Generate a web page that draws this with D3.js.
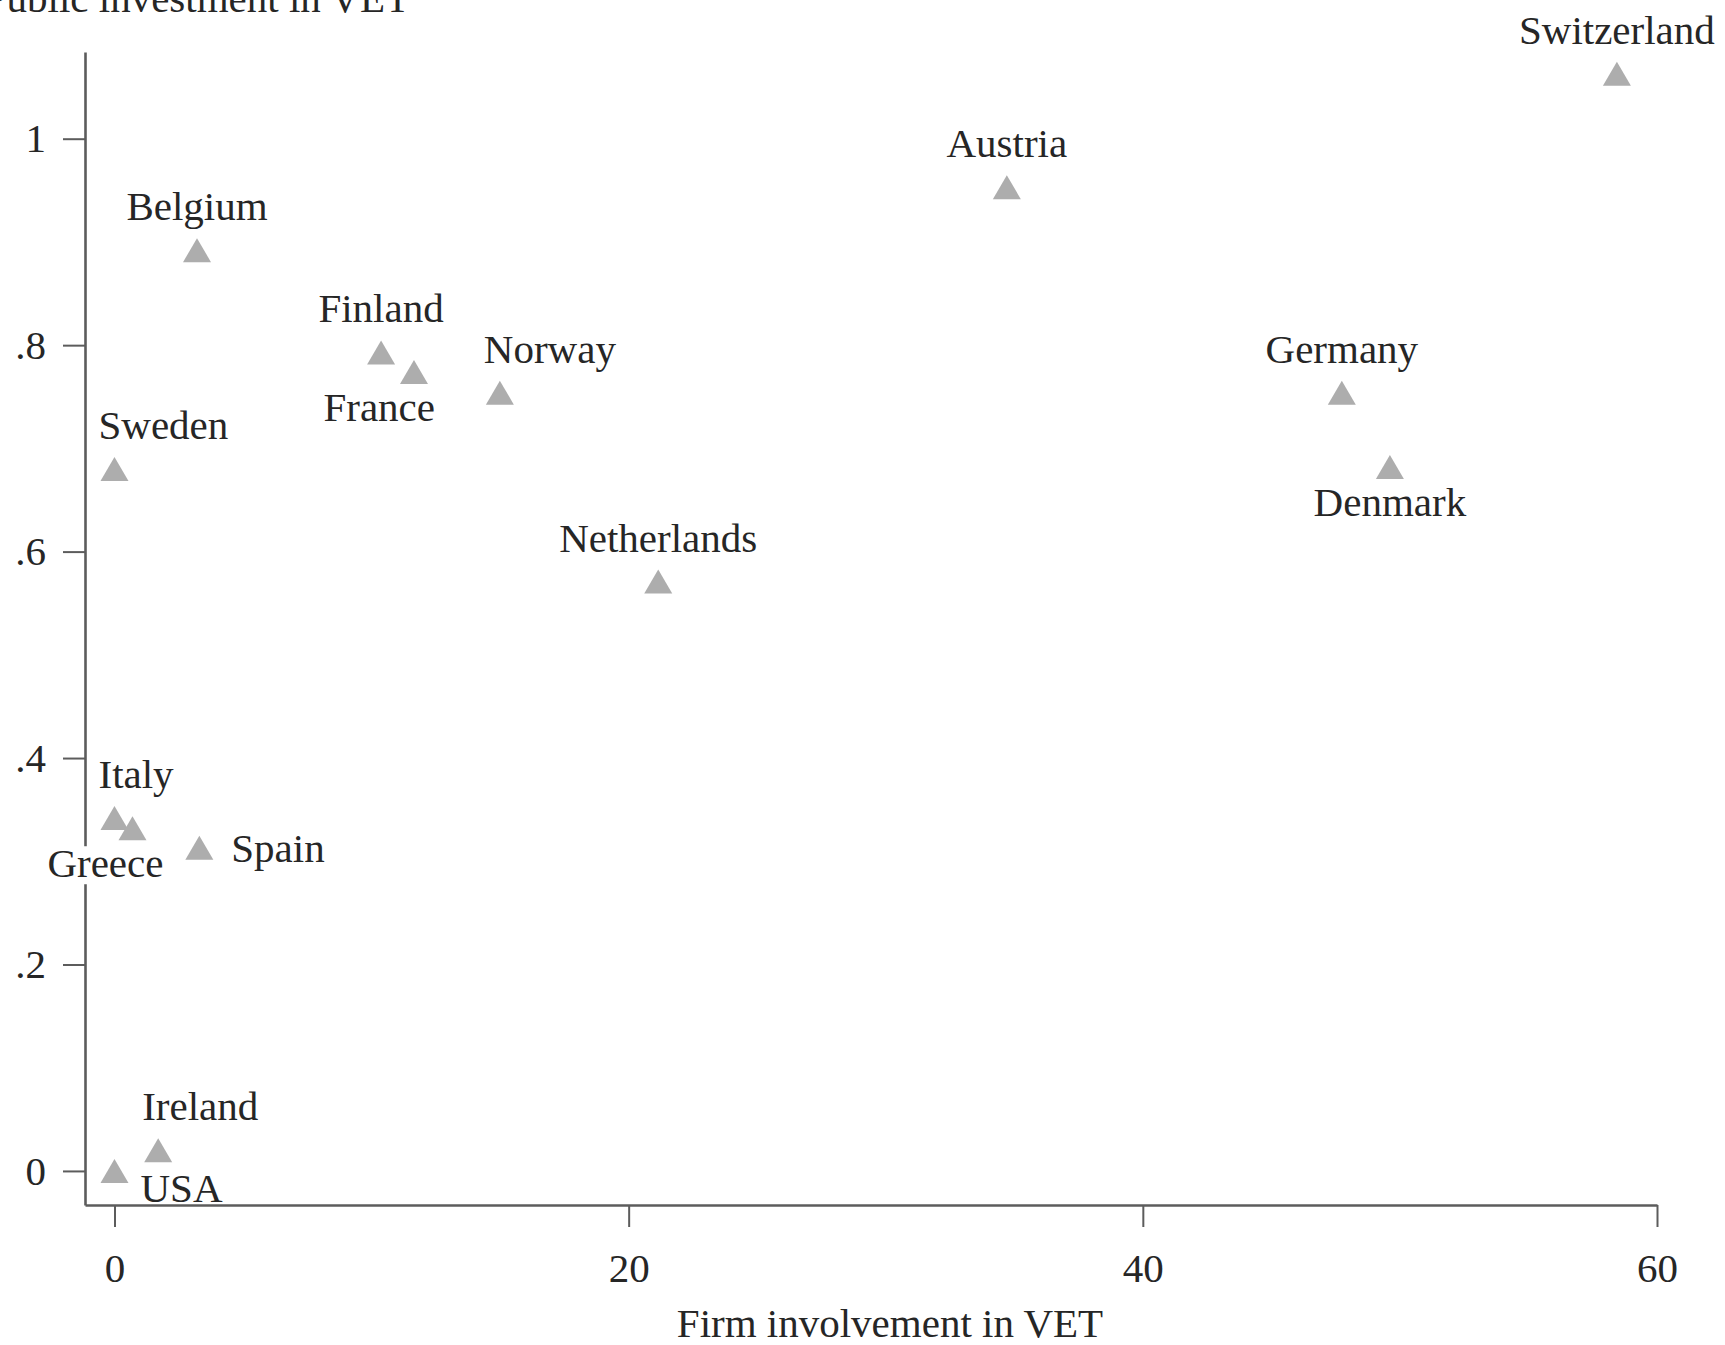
<!DOCTYPE html>
<html>
<head>
<meta charset="utf-8">
<script src="https://cdn.jsdelivr.net/npm/d3@7/dist/d3.min.js"></script>
<style>
  html, body { margin: 0; padding: 0; background: #fff; }
  svg { display: block; }
  text { font-family: "Liberation Serif", "Times New Roman", serif; }
</style>
</head>
<body>
<svg id="chart" width="1725" height="1345"></svg>
<script>
// Countries: firm involvement in VET (x) vs public investment in VET (y)
const countries = ["Switzerland", "Austria", "Belgium", "Finland", "France", "Norway",
  "Germany", "Denmark", "Sweden", "Netherlands", "Italy", "Greece", "Spain", "Ireland", "USA"];
const firmInvolvement = [58.44, 34.71, 3.21, 10.37, 11.65, 14.99,
  47.74, 49.61, 0, 21.15, 0, 0.7, 3.3, 1.7, 0];
const publicInvestment = [1.063, 0.953, 0.892, 0.793, 0.774, 0.754,
  0.754, 0.682, 0.680, 0.571, 0.342, 0.332, 0.313, 0.020, 0];

const xTicks = [0, 20, 40, 60];
const xTickLabels = ["0", "20", "40", "60"];
const yTicks = [0, 0.2, 0.4, 0.6, 0.8, 1];
const yTickLabels = ["0", ".2", ".4", ".6", ".8", "1"];

const xTitle = "Firm involvement in VET";
const yTitle = "Public investment in VET";

// Marker label placement by clock position (Stata-style mlabvposition)
const labelClock = {
  Switzerland: 12, Austria: 12, Belgium: 12, Finland: 12, Germany: 12, Netherlands: 12,
  Norway: 1, Sweden: 1, Italy: 1, Ireland: 1,
  Denmark: 6, France: 7, Greece: 8, Spain: 3, USA: 4
};
const clockOffsets = {
  12: { anchor: "middle", dx: 0,   dy: -30 },
  1:  { anchor: "start",  dx: -16, dy: -30 },
  3:  { anchor: "start",  dx: 32,  dy: 14 },
  4:  { anchor: "start",  dx: 26,  dy: 31 },
  6:  { anchor: "middle", dx: 0,   dy: 49 },
  7:  { anchor: "end",    dx: 21,  dy: 49 },
  8:  { anchor: "end",    dx: 31,  dy: 49 }
};

const fontSize = 41;
const axisColor = "#5c5c5c";
const textColor = "#262626";
const markerColor = "#adadad";

const svg = d3.select("#chart");
svg.append("rect").attr("width", 1725).attr("height", 1345).attr("fill", "#fff");

// Plot region: axes sit on its left and bottom edges
const plot = { left: 85, right: 1657, top: 52, bottom: 1205 };

const x = d3.scaleLinear().domain([-1.147, 60]).range([plot.left, plot.right]);
const y = d3.scaleLinear().domain([-0.033, 1.084]).range([plot.bottom, plot.top]);

const xAxis = d3.axisBottom(x)
  .tickValues(xTicks)
  .tickFormat((d, i) => xTickLabels[i])
  .tickSizeInner(22).tickSizeOuter(0).tickPadding(26);
const yAxis = d3.axisLeft(y)
  .tickValues(yTicks)
  .tickFormat((d, i) => yTickLabels[i])
  .tickSizeInner(22).tickSizeOuter(0).tickPadding(17);

function styleAxis(g) {
  g.select(".domain").attr("stroke", axisColor).attr("stroke-width", 2.6);
  g.selectAll(".tick line").attr("stroke", axisColor).attr("stroke-width", 2);
  g.selectAll(".tick text")
    .attr("fill", textColor)
    .style("font-family", '"Liberation Serif", "Times New Roman", serif')
    .style("font-size", fontSize + "px");
}

// Y axis first, so the marker labels' white boxes sit over it
svg.append("g")
  .attr("transform", `translate(${plot.left},0)`)
  .call(yAxis)
  .call(styleAxis);

// Axis titles
svg.append("text")
  .attr("x", 890).attr("y", 1337)
  .attr("text-anchor", "middle")
  .attr("fill", textColor)
  .style("font-size", fontSize + "px")
  .text(xTitle);

svg.append("text")
  .attr("x", 410).attr("y", 12)
  .attr("text-anchor", "end")
  .attr("fill", textColor)
  .style("font-size", fontSize + "px")
  .text(yTitle);

// Data rows
const rows = countries.map((c, i) => ({
  name: c, fx: firmInvolvement[i], py: publicInvestment[i]
}));

// Country labels, each on a white box
const labelGroups = svg.append("g").selectAll("g")
  .data(rows)
  .join("g");

labelGroups.append("text")
  .each(function (d) {
    const o = clockOffsets[labelClock[d.name]];
    d3.select(this)
      .attr("x", x(d.fx) + o.dx)
      .attr("y", y(d.py) + o.dy)
      .attr("text-anchor", o.anchor);
  })
  .attr("fill", textColor)
  .style("font-size", fontSize + "px")
  .text(d => d.name);

labelGroups.each(function () {
  const g = d3.select(this);
  const bb = g.select("text").node().getBBox();
  g.insert("rect", "text")
    .attr("x", bb.x - 2).attr("y", bb.y + 6)
    .attr("width", bb.width + 4).attr("height", bb.height - 8)
    .attr("fill", "#fff");
});

// Triangle markers, centred on their bounding box
const triW = 28, triH = 24;
const triPath = `M0,${-triH / 2}L${triW / 2},${triH / 2}L${-triW / 2},${triH / 2}Z`;

svg.append("g").selectAll("path")
  .data(rows)
  .join("path")
  .attr("d", triPath)
  .attr("transform", d => `translate(${x(d.fx)},${y(d.py)})`)
  .attr("fill", markerColor);

// X axis last, drawn over everything
svg.append("g")
  .attr("transform", `translate(0,${plot.bottom})`)
  .call(xAxis)
  .call(styleAxis);
</script>
</body>
</html>
